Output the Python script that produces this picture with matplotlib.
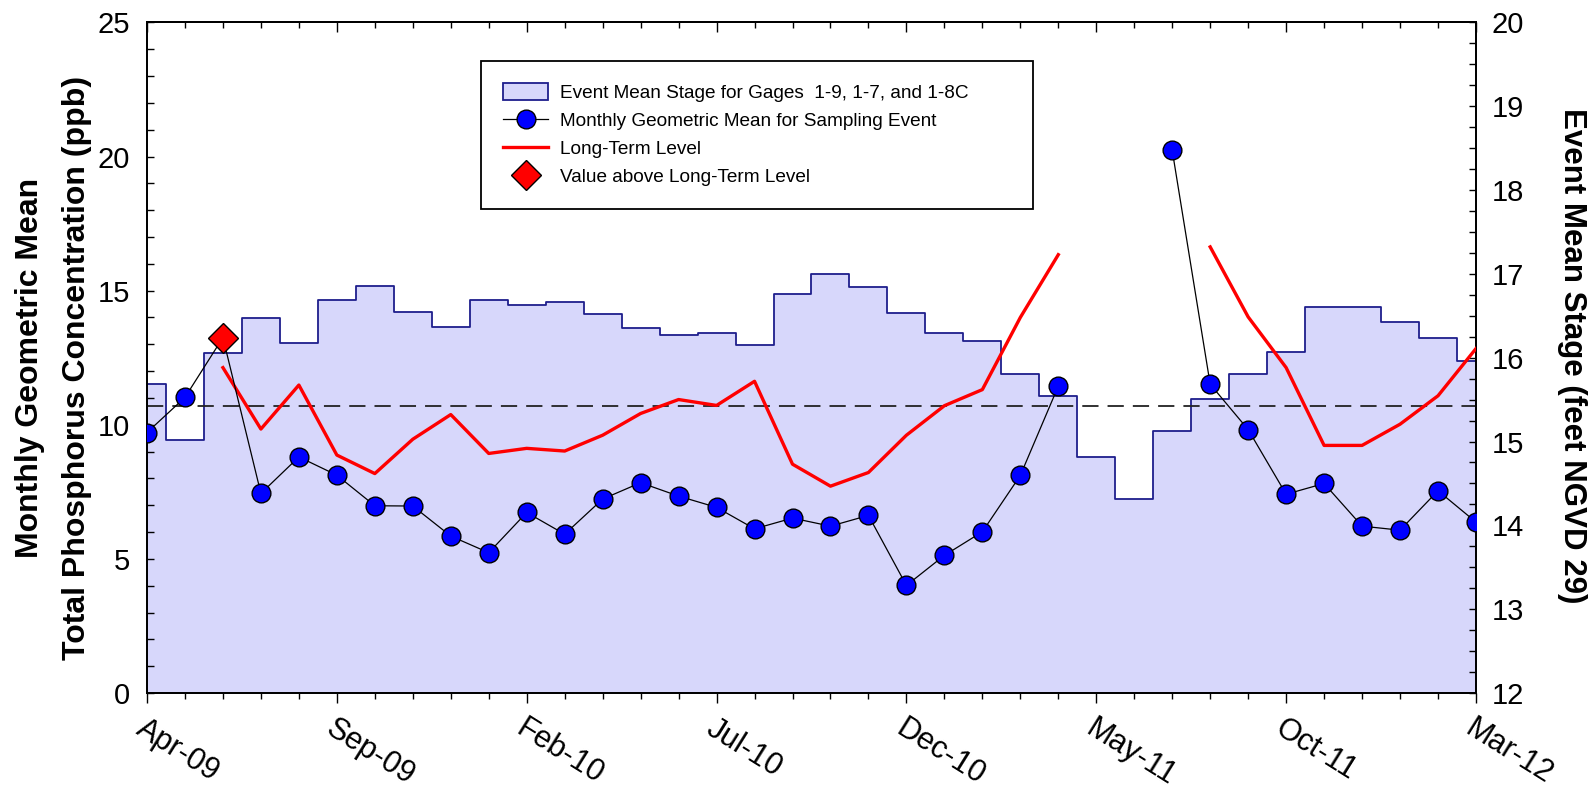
import numpy as np
import matplotlib
matplotlib.use("Agg")
import matplotlib.pyplot as plt
from matplotlib.lines import Line2D
from matplotlib.patches import Patch
from matplotlib.ticker import MultipleLocator, FixedLocator

plt.rcParams['font.family'] = ['Liberation Sans', 'DejaVu Sans']

nan = np.nan
months = ['Apr-09', 'May-09', 'Jun-09', 'Jul-09', 'Aug-09', 'Sep-09', 'Oct-09', 'Nov-09',
          'Dec-09', 'Jan-10', 'Feb-10', 'Mar-10', 'Apr-10', 'May-10', 'Jun-10', 'Jul-10',
          'Aug-10', 'Sep-10', 'Oct-10', 'Nov-10', 'Dec-10', 'Jan-11', 'Feb-11', 'Mar-11',
          'Apr-11', 'May-11', 'Jun-11', 'Jul-11', 'Aug-11', 'Sep-11', 'Oct-11', 'Nov-11',
          'Dec-11', 'Jan-12', 'Feb-12', 'Mar-12']

conc = [9.71, 11.02, 13.25, 7.44, 8.80, 8.12, 6.98, 6.97, 5.85, 5.23, 6.73, 5.92,
        7.23, 7.84, 7.34, 6.92, 6.12, 6.52, 6.22, 6.62, 4.01, 5.13, 6.01, 8.11,
        11.44, nan, nan, 20.23, 11.51, 9.82, 7.41, 7.81, 6.22, 6.07, 7.54, 6.37]

long_term = [nan, nan, 12.13, 9.84, 11.48, 8.87, 8.18, 9.46, 10.38, 8.93, 9.12, 9.02,
             9.61, 10.42, 10.94, 10.72, 11.62, 8.53, 7.71, 8.22, 9.61, 10.71, 11.31, 14.0,
             16.34, nan, nan, nan, 16.63, 14.02, 12.13, 9.23, 9.23, 10.02, 11.08, 12.84]

stage = [15.69, 15.02, 16.06, 16.47, 16.17, 16.69, 16.86, 16.55, 16.37, 16.69, 16.63, 16.66,
         16.52, 16.36, 16.27, 16.30, 16.15, 16.76, 17.00, 16.84, 16.53, 16.30, 16.20, 15.80,
         15.54, 14.82, 14.31, 15.12, 15.51, 15.81, 16.07, 16.60, 16.60, 16.43, 16.23, 15.96]

threshold = 10.7
tick_labels = months[::5]

x = np.arange(len(months))
conc_a = np.array(conc, dtype=float)
lt_a = np.array(long_term, dtype=float)
stage_a = np.array(stage, dtype=float)
above = conc_a > lt_a

fill_c = '#D7D7FB'
edge_c = '#1E1E8C'
bg_c = '#F0F0F0'

fig = plt.figure(figsize=(15.96, 7.91), dpi=100)
ax = fig.add_axes([0.0921, 0.1239, 0.8327, 0.8478])
ax2 = ax.twinx()
ax.set_zorder(2)
ax2.set_zorder(1)
ax.patch.set_visible(False)
ax2.patch.set_facecolor(bg_c)

# stage (right axis)
ax2.fill_between(x, stage_a, 0, step='mid', color=fill_c, lw=0, zorder=1)
ax2.step(x, stage_a, where='mid', color=edge_c, lw=1.3, zorder=2)
ax2.set_ylim(12, 20)
ax2.yaxis.set_major_locator(MultipleLocator(1))
ax2.yaxis.set_minor_locator(MultipleLocator(0.25))
ax2.tick_params(axis='y', which='both', direction='in', length=5, width=1, labelsize=21, pad=11)

# concentration (left axis)
ax.axhline(threshold, color='#222222', lw=1.3, linestyle=(0, (9, 5)), zorder=2)
ax.plot(x, lt_a, color='#FF0000', lw=2.4, zorder=3)
ax.plot(x, conc_a, color='black', lw=0.9, zorder=4)
ax.plot(x[~above], conc_a[~above], linestyle='none', marker='o', ms=13.5,
        mfc='#0000FF', mec='black', mew=1.0, zorder=5)
ax.plot(x[above], conc_a[above], linestyle='none', marker='D', ms=15,
        mfc='#FF0000', mec='black', mew=1.0, zorder=6)

ax.set_xlim(0, len(months) - 1)
ax.set_ylim(0, 25)
ax.yaxis.set_major_locator(MultipleLocator(5))
ax.yaxis.set_minor_locator(MultipleLocator(1))
ax.tick_params(axis='y', which='both', direction='in', length=5, width=1, labelsize=21, pad=12)

ax.xaxis.set_major_locator(FixedLocator(x[::5]))
ax.xaxis.set_minor_locator(FixedLocator(x))
ax.set_xticklabels(tick_labels, rotation=-32, ha='left', va='top', rotation_mode='anchor')
ax.tick_params(axis='x', which='major', direction='out', length=7, width=1, labelsize=22, pad=8)
ax.tick_params(axis='x', which='minor', direction='out', length=4.5, width=1)

top = ax.secondary_xaxis('top')
top.xaxis.set_major_locator(FixedLocator(x[::5]))
top.xaxis.set_minor_locator(FixedLocator(x))
top.tick_params(axis='x', which='major', direction='in', length=7, width=1, labelsize=0, labeltop=False)
top.tick_params(axis='x', which='minor', direction='in', length=4, width=1)
top.spines['top'].set_linewidth(1.3)

for a in (ax, ax2):
    for s in a.spines.values():
        s.set_linewidth(1.3)
        s.set_color('black')

# axis titles
fig.text(0.0190, 0.535, 'Monthly Geometric Mean', rotation=90, ha='center', va='center',
         fontsize=23, fontweight='bold')
fig.text(0.0482, 0.535, 'Total Phosphorus Concentration (ppb)', rotation=90, ha='center',
         va='center', fontsize=23, fontweight='bold')
fig.text(0.985, 0.55, 'Event Mean Stage (feet NGVD 29)', rotation=-90, ha='center',
         va='center', fontsize=22.5, fontweight='bold')

handles = [
    Patch(facecolor=fill_c, edgecolor=edge_c, lw=1.3),
    Line2D([], [], color='black', lw=0.9, marker='o', ms=13.5, mfc='#0000FF', mec='black'),
    Line2D([], [], color='#FF0000', lw=2.4),
    Line2D([], [], linestyle='none', marker='D', ms=15, mfc='#FF0000', mec='black'),
]
labels = ['Event Mean Stage for Gages  1-9, 1-7, and 1-8C',
          'Monthly Geometric Mean for Sampling Event',
          'Long-Term Level',
          'Value above Long-Term Level']
leg = ax.legend(handles, labels, loc='upper left', bbox_to_anchor=(0.251, 0.943, 0.416, 0.0),
                mode='expand', fontsize=13.7, frameon=True, fancybox=False, framealpha=1,
                edgecolor='black', handlelength=2.35, handleheight=1.0, handletextpad=0.6,
                labelspacing=0.47, borderpad=1.2, borderaxespad=0)
leg.get_frame().set_linewidth(1.3)

fig.savefig('out.png', dpi=100)
